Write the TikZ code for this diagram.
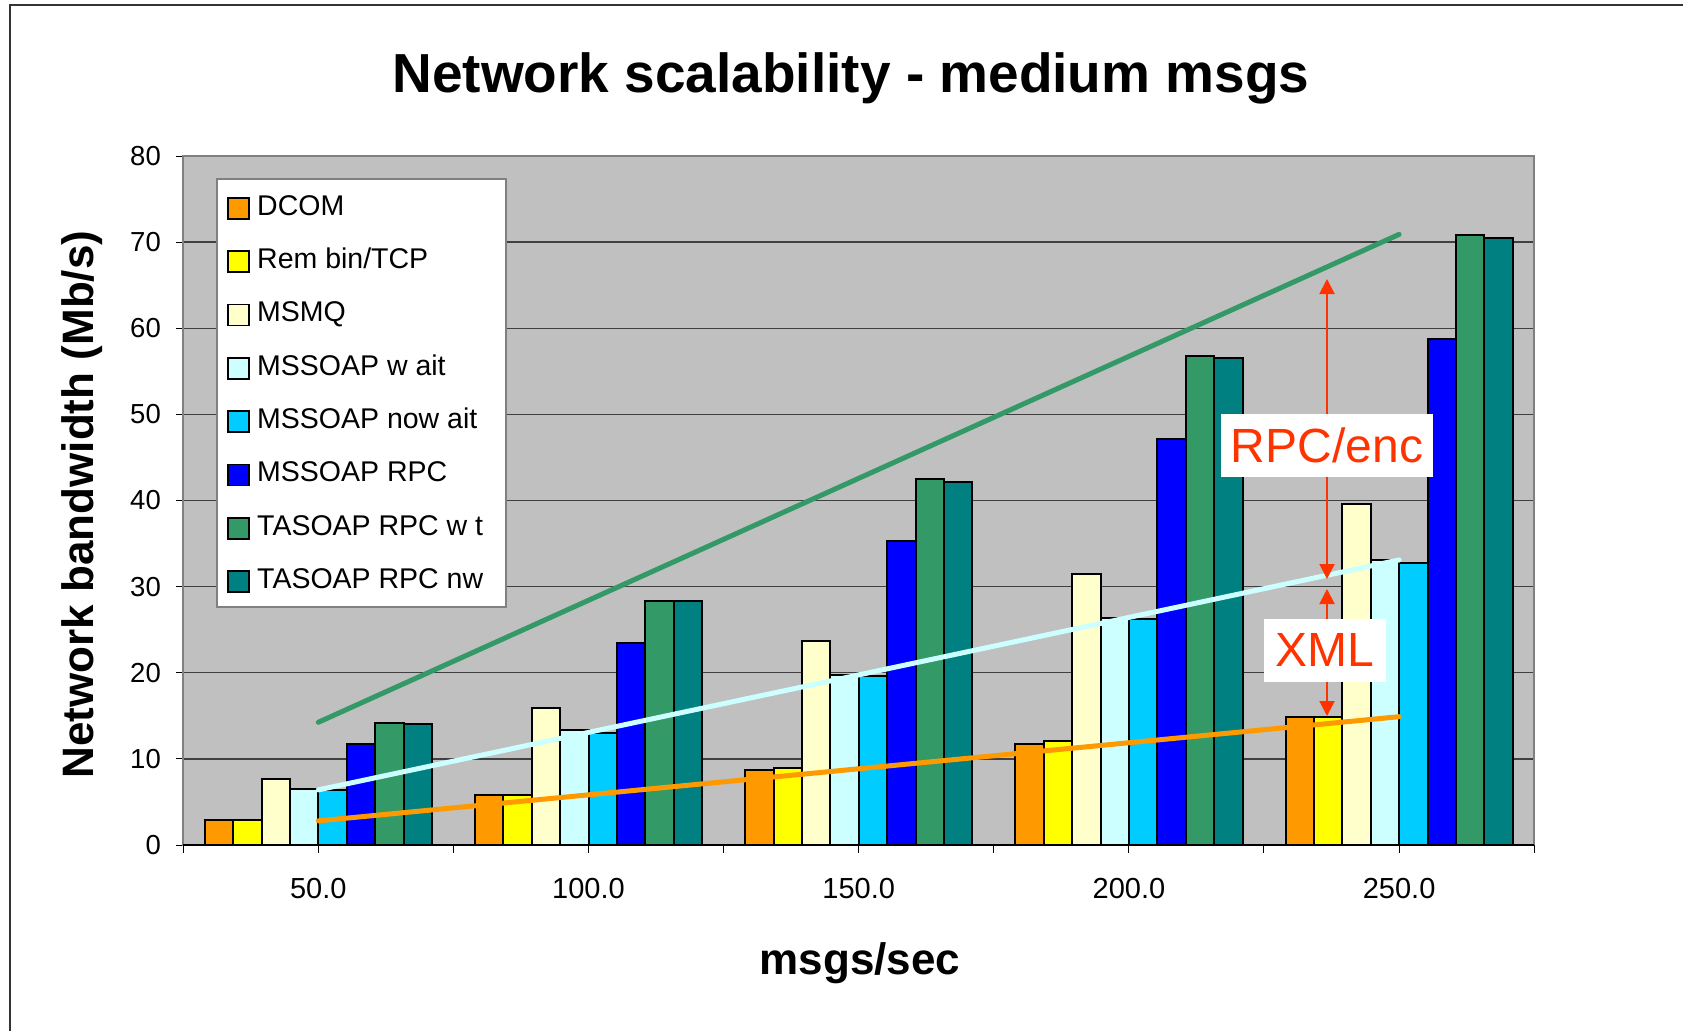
\documentclass[tikz,border=0pt]{standalone}
\usepackage{fontspec}
\setmainfont{Liberation Sans}
\usetikzlibrary{arrows.meta}
\definecolor{cA}{HTML}{FF9900}
\definecolor{cB}{HTML}{FFFF00}
\definecolor{cC}{HTML}{FFFFCC}
\definecolor{cD}{HTML}{CCFFFF}
\definecolor{cE}{HTML}{00CCFF}
\definecolor{cF}{HTML}{0000FF}
\definecolor{cG}{HTML}{339966}
\definecolor{cH}{HTML}{008080}
\definecolor{plotbg}{HTML}{C0C0C0}
\definecolor{gridc}{HTML}{404040}
\definecolor{framec}{HTML}{808080}
\definecolor{annot}{HTML}{FF3300}
\tikzset{
  bar/.style={draw=black,line width=2pt},
  gridline/.style={draw=gridc,line width=1.3pt},
  tickline/.style={draw=black,line width=1pt},
  ticklabel/.style={inner sep=0pt,font=\fontsize{27.5}{30}\selectfont},
  xticklabel/.style={inner sep=0pt,anchor=base,font=\fontsize{29}{32}\selectfont},
  legendtext/.style={inner sep=0pt,anchor=base west,font=\fontsize{28.5}{32}\selectfont},
  swatch/.style={draw=black,line width=1.5pt},
  trend/.style={line width=5pt,line cap=round},
  annotarrow/.style={draw=annot,line width=2pt,{Triangle[length=15pt,width=15pt]}-{Triangle[length=15pt,width=15pt]}},
  annotlabel/.style={fill=white,text=annot,inner sep=0pt,font=\fontsize{48}{52}\selectfont},
}
\begin{document}
\begin{tikzpicture}[x=1pt,y=-1pt]
\useasboundingbox (0,0) rectangle (1683,1031);
\fill[white] (0,0) rectangle (1683,1031);
% outer frame
\draw[black!80,line width=2pt] (10,1031) -- (10,5) -- (1683,5);
% title
\node[inner sep=0pt,anchor=base,font=\fontsize{55}{60}\selectfont\bfseries] (title) at (851,92) {Network scalability - medium msgs};
% plot area
\fill[plotbg] (183,156) rectangle (1534,845);
\foreach \v in {10,20,...,70}{
  \draw[gridline] (183,{845-8.6125*\v}) -- (1534,{845-8.6125*\v});
}
% y ticks and labels
\foreach \v in {0,10,...,80}{
  \draw[tickline] (176,{845-8.6125*\v}) -- (183,{845-8.6125*\v});
  \node[ticklabel,anchor=east] (ylab\v) at (161,{845-8.6125*\v}) {\v};
}
% bars
\foreach \g/\a/\b/\c/\d/\e/\f/\h/\k in {
  0/2.9/2.9/7.7/6.5/6.4/11.7/14.2/14.0,
  1/5.8/5.8/15.9/13.3/13.0/23.4/28.3/28.3,
  2/8.75/9.0/23.7/19.7/19.65/35.3/42.5/42.2,
  3/11.7/12.1/31.5/26.4/26.3/47.1/56.8/56.5,
  4/14.9/14.85/39.6/33.1/32.7/58.8/70.8/70.5}{
  \foreach \i/\v/\col in {0/\a/cA,1/\b/cB,2/\c/cC,3/\d/cD,4/\e/cE,5/\f/cF,6/\h/cG,7/\k/cH}{
    \draw[bar,fill=\col] ({318.3+270.2*\g+(\i-4)*28.4},845) rectangle ({318.3+270.2*\g+(\i-3)*28.4},{845-8.6125*\v});
  }
}
% plot border
\draw[framec,line width=2.5pt] (183,156) rectangle (1534,845);
\draw[black,line width=1.2pt] (183,845) -- (1534,845);
% x ticks
\foreach \t in {0,...,5}{
  \draw[tickline] ({183+270.2*\t},845) -- ({183+270.2*\t},853);
}
\foreach \t in {0,...,4}{
  \draw[tickline] ({318.3+270.2*\t},845) -- ({318.3+270.2*\t},853);
}
% x tick labels
\foreach \t/\lab in {0/50.0,1/100.0,2/150.0,3/200.0,4/250.0}{
  \node[xticklabel] (xlab\t) at ({318.3+270.2*\t},898) {\lab};
}
% trend lines
\coordinate (gS) at (318.3,{845-8.6125*14.25});
\coordinate (gE) at (1399.1,{845-8.6125*70.9});
\coordinate (cS) at (318.3,{845-8.6125*6.4});
\coordinate (cE) at (1399.1,{845-8.6125*33.1});
\coordinate (oS) at (318.3,{845-8.6125*2.8});
\coordinate (oE) at (1399.1,{845-8.6125*14.9});
\draw[trend,cG] (gS) -- (gE);
\draw[trend,cD] (cS) -- (cE);
\draw[trend,cA] (oS) -- (oE);
% annotations
\coordinate (rpcTop) at (1327,279);
\coordinate (rpcBot) at (1327,579);
\coordinate (xmlTop) at (1327,589);
\coordinate (xmlBot) at (1327,716);
\draw[annotarrow] (rpcTop) -- (rpcBot);
\draw[annotarrow] (xmlTop) -- (xmlBot);
\node[annotlabel,minimum width=212pt,minimum height=63pt] (rpcenc) at (1327,445.5) {RPC/enc};
\node[annotlabel,minimum width=122pt,minimum height=63pt] (xml) at (1325,650.3) {XML};
% legend
\draw[fill=white,draw=framec,line width=1.5pt] (217,179) rectangle (506,607);
\foreach \r/\col/\lab in {0/cA/{DCOM},1/cB/{Rem bin/TCP},2/cC/{MSMQ},3/cD/{MSSOAP w ait},4/cE/{MSSOAP now ait},5/cF/{MSSOAP RPC},6/cG/{TASOAP RPC w t},7/cH/{TASOAP RPC nw}}{
  \draw[swatch,fill=\col] (228,{208.3+53.33*\r-10.5}) rectangle (249,{208.3+53.33*\r+10.5});
  \node[legendtext] (leg\r) at (257,{208.3+53.33*\r+7}) {\lab};
}
% axis titles
\node[inner sep=0pt,anchor=base,rotate=90,font=\fontsize{44}{48}\selectfont\bfseries] (ytitle) at (93,504.5) {Network bandwidth (Mb/s)};
\node[inner sep=0pt,anchor=base,font=\fontsize{44}{48}\selectfont\bfseries] (xtitle) at (860,974) {msgs/sec};
\end{tikzpicture}
\end{document}
